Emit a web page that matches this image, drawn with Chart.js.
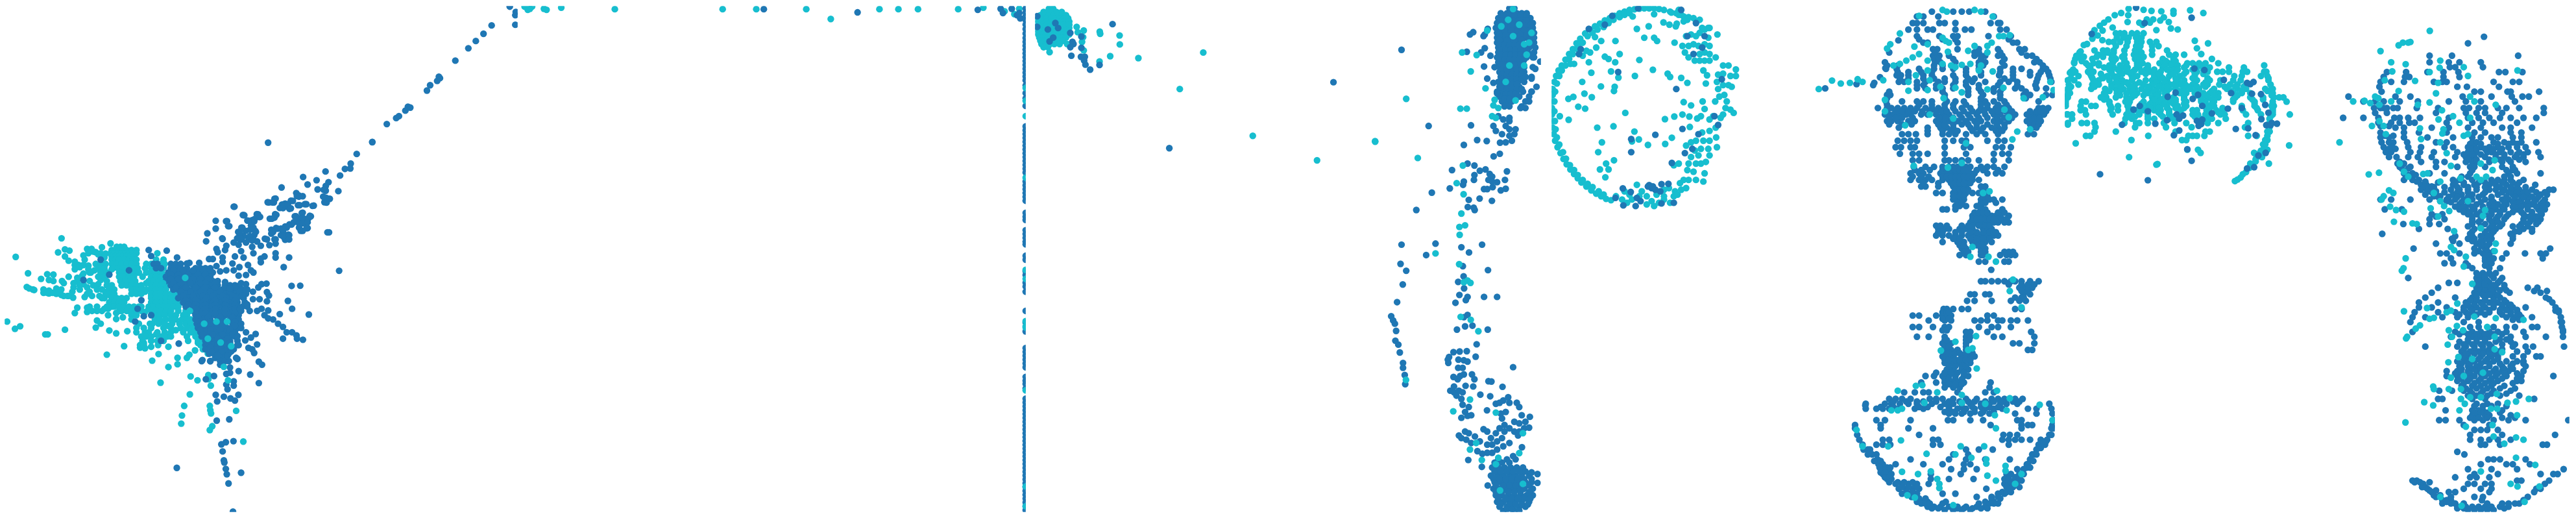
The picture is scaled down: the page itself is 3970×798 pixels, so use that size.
<!DOCTYPE html>
<html><head><meta charset="utf-8">
<style>html,body{margin:0;padding:0;background:#fff;width:3970px;height:798px;overflow:hidden}canvas{position:absolute}</style>
<script src="https://cdn.jsdelivr.net/npm/chart.js@4"></script>
</head><body>
<script>
// rows: [y, x, x, x...]  /  pairs: [x,y, x,y...]
const wingTeal=[236,200,50,287,222,266,250,252,268,258,250,285,265,305,290,325,290,345,305,325,325,280,340,250,358,250,375,265,395,270,415,272,400,242,435,224,325,325,345,328,355,360,100,364,178,368,203,370,153,390,185,395,203,400,265,380,238,400,245,410,95,428,105,435,120,440,163,440,163,455,185,445,185,458,215,435,215,460,235,465,235,440,260,470,283,478,285,430,300,400,320,375,325,415,350,400,350,450,330,475,385,380,385,415,390,470,410,480,430,440,430,465,300,525,290,550,340,525,340,545,360,540,380,520,400,540,425,530,425,560,458,550,458,578,485,570,380,585,395,600,375,618,430,632,458,645,503,635,250,628,170,650,180,650,68,612,47,624,15,590,490,705,420,745,555,712,575,715,600,708,628,700,670,708,630,742,604,773,670,803,707,760,707,790,745,760,755,745,778,725,638,876,760,847,788,865,832,840,832,860,842,890,757,931,734,985,725,1030,722,1068,838,985,840,1005,843,1020,848,1080,838,1098,945,1008,974,1152];
const wingTealExtra=[290,310,310,335,330,300,345,270,365,262,385,275,410,290,415,320,400,340,370,350,345,345,325,365,300,385,285,410,310,420,340,430,365,420,395,395,415,375,400,440,420,450,380,440,360,470,340,460,310,440,280,450,265,470,245,470,225,450,200,455,178,455,125,442,350,520,380,540,410,530,440,520,470,540,490,520,510,540,525,555,560,520,575,545,590,530,595,600,575,640,560,660,570,690,620,650,640,660,600,680,665,660,440,345,460,300,495,300,520,330,545,360,565,380,580,410,560,430,540,450,520,460,500,400,520,420,575,450,600,470,640,480,680,470,720,480,700,520,740,560,760,580,770,640,790,690,610,330,630,350,650,370,610,390,640,430,610,430,630,510,650,530,670,550,690,570,650,590,670,610,700,630];
const wingTealRows=[[240,460,475,490],[255,440,455,470,485,500,520,540],[270,435,450,465,480,495,510,525,540,625],[285,440,455,470,485,500,515,530],[300,440,455,470,490,510,525,540,620,650],[320,375,395,440,460,480,500,520,540,580,600,620,640,655],[340,385,410,445,465,485,505,525,545,575,600,625,650],[360,350,395,420,470,490,510,530,550,580,600,620,640],[380,410,470,490,510,530,600,620,640,660],[400,420,475,495,515,535,590,610,630,650],[420,420,440,480,500,520,540,560,600,620,640,660],[440,430,450,520,540,560,580,600,620,640,660,690],[460,415,430,450,540,560,600,620,640,660,680,700],[480,400,440,460,480,500,600,620,640,660,680,700],[500,430,450,470,490,600,620,640,660,680,700,720],[520,420,450,470,490,510,530,550,590,610,630,650,670,690,710],[540,480,500,520,540,560,600,620,640,660,680,710,740],[560,520,540,615,635,655,680,700,730,745],[580,520,615,635,660,680,700,725,745],[600,550,605,630,655,685,715,740,760],[620,540,570,600,650,680,720,745,770],[640,540,590,625,655,680,730,760,780],[660,580,600,655,680,745,780,800],[680,565,600,625,650,750,790,810],[700,555,570,800,815],[720,810,820],[740,830]];
const wingBlueRows=[[320,610,625,680,700,720],[340,620,640,680,700,720,745,780,800,820,840],[360,670,690,710,730,750,770,790,810,830,850],[380,660,680,700,720,760,780,800,820,840],[400,660,680,700,720,745,770,790,810,830,850,870],[420,680,700,720,745,770,790,810,830,850,870,900,920,940,960],[440,690,710,730,750,770,790,810,830,850,870,890,910,930,950,970,990],[460,720,740,760,780,800,820,840,860,880,900,920,940,960,985],[480,710,730,750,770,790,810,830,850,870,890,910,930,950,975],[500,730,750,770,790,810,830,850,870,890,910,930,950,980],[520,740,770,790,810,830,850,870,890,910,930,950,970,990],[540,770,790,810,830,850,870,890,910,930,950,965],[560,780,800,820,840,860,880,900,920,940,955],[580,780,800,820,840,870,890,920,940,955],[600,785,805,830,860,880,900,930,950,965],[620,790,810,830,850,870,890,910,930,950,965],[640,800,820,840,860,880,900,920,940],[660,805,825,845,865,885,900,920,940],[680,820,840,860,880,900,920,950],[700,820,850,870,890,910,950],[720,820,850,870,890,910,935],[740,835,855,875,895,915],[760,860,880,900,945],[775,805,840,880,900,915],[350,690,730,770,810,840],[370,680,710,750,790,820],[390,680,710,770,800,830],[410,690,730,760,800,820,860],[430,700,740,780,820,860,900,940],[450,720,760,800,840,880,920,960],[470,730,770,810,850,890,930,970],[490,740,780,820,860,900,940],[510,750,780,820,860,900,940],[530,780,820,860,900,940,960],[550,780,820,860,900,940],[570,790,830,880,930],[590,790,840,880,940],[610,800,840,890,940],[630,800,840,880,920],[650,810,850,890,930],[670,830,870,910],[690,830,880,920],[710,840,880,920],[730,845,885,925],[750,870,910]];
const wingBlue=[590,255,663,258,705,290,745,318,755,315,795,315,600,283,850,297,835,297,890,290,890,310,865,330,880,355,905,350,935,350,955,375,900,405,920,435,965,410,985,415,985,445,1013,450,1035,430,1048,415,1068,412,1070,452,1078,468,1013,485,1040,485,1070,495,990,510,1000,540,1030,540,1048,530,1075,538,1060,560,1075,575,1095,580,1115,600,1135,615,1150,640,1172,640,1190,655,1192,670,1216,675,1135,670,1122,555,1240,557,1172,530,1155,493,1170,423,1205,422,1363,352,1138,335,1160,290,1322,172,938,52,823,214,828,177,862,155,862,118,908,120,917,143,890,203,978,92,995,118,1020,110,1034,88,1042,100,1090,108,1108,90,1078,32,1098,32,1105,14,1135,58,1140,40,1155,40,1167,60,1175,25,1203,45,1230,40,1260,47,1200,5,1215,3,1310,10,1325,15,1312,33,1188,97,1215,80,1248,97,1215,105,1235,125,1235,152,1215,165,1200,130,1170,135,1150,150,1135,160,1113,155,1095,170,1135,190,1160,185,1160,205,1105,205,1105,225,1070,205,1080,232,1105,270,1105,290,1060,285,1045,312,1045,295,970,150,960,175,1015,150,1025,170,960,200,1000,190,985,220,1010,210,1030,215,935,220,905,235,900,255,865,250,870,265,955,230,965,260,940,285,975,290,1010,240,1015,270,1045,235,930,318,958,335,993,325,1005,350,985,372,1015,360,985,640,950,658,1005,665,1024,648,982,678,1030,697,955,700,995,713,1010,720,1018,737,950,765,1037,778,1050,792,955,822,1002,838,1037,878,808,770,840,775,880,792,920,805,920,830,905,835,855,845,822,860,935,870,935,890,905,885,910,907,862,933,895,942,954,933,922,950,940,960,868,964,866,1054,917,1048,885,1165,903,1155,934,1150,890,1198,895,1240,897,1250,903,1280,907,1305,914,1348,965,1298,704,1275,932,1480,395,300,325,395,430,370,510,350,535,590,600,560,570,565,545,530,560,490,640,680,712,693];
const wingTealTop=[738,385,648,410,757,540,865,590,908,590,815,600,830,670,882,688,925,705,895,802,912,865];
const midCloudBlue=[220,82,708,80,635,135,607,180,605,203,580,205,557,236,489,217,447,258,384,243,405,278,503,267,490,285,490,307,480,303,452,301,549,309,283,292,478,335,500,345,490,350,484,361,352,318,365,330,355,332,327,354,250,345,240,362,218,361,300,368,285,372,275,388,290,388,310,380,320,392,360,375,392,370,428,378,59,382,102,421,167,417,177,430,123,447,145,445,155,450,23,450,33,473,253,417,250,433,228,438,345,427,378,412,375,435,415,425,410,435,395,440,360,445,340,455,320,465,398,462,365,480,373,495,400,483,380,460,498,502,95,480,140,470,80,500,115,495,135,490,160,495,155,515,85,520,105,520,75,530,95,535,130,535,150,535,5,530,235,490,235,508,257,482,280,485,300,475,290,500,280,515,315,513,295,525,205,532,250,535,300,537];
const diagBlue=[378,649,446,565,490,537,503,528,533,502,545,484,556,488,634,408,649,383,682,363,695,350,690,343,767,268,828,210,863,176,899,142,937,103,1048,100,1048,55,1050,40,1022,15,1080,40];
const topTeal=[1060,15,1075,30,1095,15,1085,25];
const topLineTeal=[105,25,113,30,158,20,322,27,652,27,755,27,908,27,983,73,1132,27,1190,27,1250,27,1373,27,1450,20,1515,37,1545,50,1560,25];
const topLineBlue=[778,27,1065,42,1433,30,1503,25,1510,45,1537,25,1553,55,1563,70,1560,45];
const stripBlue=[1586,8,1586,14,1586,20,1586,26,1586,33,1586,40,1586,47,1586,54,1586,60,1586,66,1586,72,1586,78,1586,84,1586,90,1586,96,1586,102,1586,108,1586,114,1586,120,1586,128,1586,140,1586,148,1586,160,1586,192,1586,198,1586,204,1586,210,1586,216,1586,222,1586,228,1586,234,1586,240,1586,246,1586,252,1586,258,1586,264,1586,278,1586,284,1586,290,1586,296,1586,302,1586,308,1586,327,1586,333,1586,338,1586,354,1586,360,1586,366,1586,372,1586,376,1586,394,1586,400,1586,418,1586,424,1586,436,1586,442,1586,450,1586,480,1586,498,1586,512,1586,538,1586,544,1586,550,1586,556,1586,562,1586,568,1586,583,1586,589,1586,594,1586,601,1586,617,1586,623,1586,629,1586,635,1586,641,1586,647,1586,653,1586,659,1586,665,1586,671,1586,677,1586,683,1586,689,1586,695,1586,701,1586,707,1586,713,1586,719,1586,725,1586,731,1586,737,1586,743,1586,749,1586,755,1586,761,1586,767,1586,773,1586,779,1586,785,1586,791];
const stripTeal=[1586,132,1586,152,1586,176,1586,272,1586,416,1586,430,1586,496,1586,504,1586,506,1586,604,1586,754,1586,785];
const blobTealRows=[[25,335,355],[40,310,330,350,370,395],[55,295,315,335,355,375,395,415],[70,285,305,325,345,365,385,405,425],[85,285,305,325,345,385,405,430],[100,285,305,325,345,365,385,405,430],[115,285,305,345,365,400,430],[130,285,305,325,345,365,385,405,425],[145,285,305,325,345,365,385,405,430],[160,290,310,330,375,395,415],[175,295,315,360,380,400],[190,300,320,340,360,385,420],[205,310,330]];
const blobTeal=[465,110,498,127,470,135,495,158,490,180,338,228,498,220,573,132,575,142,666,150,667,192,622,247,572,272,754,256];
const blobBlue=[365,92,330,122,378,115,280,110,355,160,338,178,280,60,435,138,445,180,450,190,435,205,633,97,487,208,440,245,485,250,503,250,500,268,506,287,528,310,572,288,487,155];
const farTeal=[278,230,168,401,510,620,811,735,1083,645];
const farBlue=[119,678,888,369];
const columnBlueRows=[[15,600,620],[30,565,590,610,630,650,670],[45,555,580,600,630,660,685],[60,550,575,600,625,650,680,695],[75,545,565,590,620,645,670,695],[90,550,570,600,630,655,680,700],[105,550,575,605,635,660,690,700],[120,550,570,590,610,630,650,680,700],[135,555,575,595,615,635,655,680,705],[150,555,575,595,615,635,655,675,700],[165,550,570,590,610,630,650,670,695],[180,555,575,595,615,635,655],[195,540,560,580,600,620,640,660,695],[210,560,580,600,620,640,660],[225,565,585,605,625,645,665,690],[240,555,575,595,615,635,660],[255,560,580,600,620,640],[270,550,570,590,610,630,655,690],[285,560,580,600,620,640,680],[300,570,590,610,665],[315,580,600,650],[37,570,600,620,645,670],[52,565,590,615,640,670],[67,555,580,610,635,660,685],[82,555,580,610,635,660,685],[97,560,585,615,645,670],[112,560,590,620,650,680],[127,560,580,600,620,640,665,690],[142,565,585,605,625,645,670],[157,565,585,605,625,645,665,690],[172,560,580,600,620,640,660],[187,565,585,605,625,645],[202,570,590,610,630,650],[217,570,590,610,630,650],[232,570,590,610,630,650],[247,570,590,610,630],[262,570,590,610,630,650],[277,565,585,605,625],[292,580,600,620]];
const columnBlue=[162,142,272,375,285,579,222,632,162,738,300,735,262,770,158,797,181,818,167,860,144,914,120,957,128,970,135,980,140,1002,137,1032,149,1044,155,1068,168,1100,168,1115,175,1137,177,1165,444,373,415,433,469,418,508,421,427,148,440,95,453,88,495,100,500,95,512,78,500,137,485,150,523,160,497,193,510,230,535,243,536,468,561,460,430,490,458,496,367,510,480,512,503,508,590,514,458,525,456,540,520,522,530,530,515,540,530,545,550,547,582,540,415,545,412,555,358,566,497,568,510,568,532,562,565,572,585,567,479,597,435,601,529,604,431,623,455,625,459,632,405,746,489,738,436,762,411,804,513,816,414,835,392,852,416,872,397,892,430,898,423,908,381,916,497,898,550,898,430,953,415,960,420,988,450,986,387,998,512,998,467,1043,373,1067,398,1065,427,1064,355,1082,350,1090,352,1100,393,1090,415,1092,430,1096,463,1081,392,1115,410,1115,415,1135,373,1143,390,1150,400,1140,448,1135,458,1150,422,1170,453,1172,615,1113,515,1156,527,1157,572,1173,375,1172,360,1185,375,1190,395,1185,410,1190,385,1200,405,1210,482,1197,522,1202,410,1228,435,1235,420,1250,445,1260,405,1268,430,1262,509,1245,545,1225,560,1222,575,1215,595,1205,600,1222,630,1222,640,1235,565,1255,585,1250,570,1270,650,1260,683,1265,665,1280,620,1280,640,1285,580,1290,560,1300,580,1310,600,1300,620,1310,640,1310,660,1300,680,1298,635,1322,495,1303,395,1322,405,1330,420,1310,435,1315,425,1335,460,1325,445,1345,480,1340,470,1370,490,1378,433,1397,488,1418,510,1310,525,1330,545,1315,510,1350,530,1350,550,1340,570,1330,510,1375,530,1375,550,1365,575,1355,600,1345,651,1358,615,1385,690,270,710,255,680,300,665,320,645,320,725,178,700,165,705,200,690,230,665,225,550,275,555,345,575,355,600,350,600,360,535,375,545,390,570,400,585,375,600,385,625,385,620,400,600,405,610,420,585,425,562,426,714,1440,714,1467,512,1475,690,1435];
const footBlueRows=[[1395,555,590,625],[1420,530,555,580,605,630,655],[1445,525,550,575,600,625,650,680],[1465,540,565,590,615,640,665,690],[1485,535,560,585,610,635,660,695],[1505,545,570,595,620,645,670,695],[1525,550,575,600,625,650,680],[1540,560,590,615,640,665],[1552,575,620,640],[1405,540,570,600],[1432,540,565,590,615,640,665],[1455,535,560,585,610,635,660,690],[1475,545,575,600,625,650,680],[1495,545,570,595,620,645,680],[1515,555,585,610,635,660,685],[1533,565,600,625,650,675],[1548,590,610]];
const columnTeal=[615,17,595,50,567,70,640,65,690,90,615,100,660,125,680,120,585,240,625,297,670,157,600,190,660,190,55,423,181,292,228,473,408,150,401,322,427,322,443,208,467,158,503,260,540,295,535,312,555,320,530,345,545,350,510,83,411,496,386,550,414,584,405,643,420,679,397,684,398,708,396,798,415,853,430,848,442,855,402,959,443,968,474,1003,300,765,180,1152,440,1212,372,1248,545,1252,655,1315,440,1365,465,1345,488,1397,640,1376,545,1410,555,1390,562,1490,655,1470];
const ringArcTeal=[745,300,745,320,745,340,748,360,748,380,752,400,758,420,768,440,780,458,792,476,805,492,820,508,835,522,850,535,865,548,885,560,905,572,925,582,945,590,965,598,985,602,748,280,748,262,755,240,762,222,772,205,785,190,800,172,815,155,830,140,845,122,860,108,880,92,900,80,920,70,940,62,960,52,980,45,1000,38,1020,30,1040,25,1060,20,1080,18,1100,16,1120,15,1140,15,1160,15,1180,17,1200,20,1225,25,1250,30,1270,35,755,300,755,330,757,360,760,385,765,410,775,432,790,455,802,475,818,495,835,510,850,525,870,540,890,552,910,562,935,575,955,585,758,270,765,245,775,222,785,205,800,190,815,170,830,155,850,140,868,120,890,100,910,90,930,80,955,72,975,60,995,50,1020,42,1040,35,1060,30];
const ringInnerTeal=[1073,40,1160,33,1198,58,1222,65,1090,78,1138,70,1120,105,1160,105,1172,115,1243,120,1003,115,945,115,920,103,925,135,1020,155,960,163,975,170,1002,180,1100,173,1155,203,905,212,985,208,1015,227,1082,222,1215,215,1225,225,1270,228,1295,243,868,240,944,254,1000,255,997,268,877,276,832,286,812,292,907,287,852,316,880,322,1043,335,777,345,813,356,1204,354,1242,346,1275,340,1303,346,1280,302,1310,312,1357,300,1365,323,1408,300,929,380,995,376,1080,392,1098,416,948,425,1070,422,1135,433,1205,430,1232,411,1305,378,933,455,997,480,965,490,940,508,962,532,975,508,1370,245,1230,28,1260,35,1280,40,1300,42,1320,45,1345,50,1280,55,1295,50,1260,20,1248,70,1252,62,1380,75,1355,75,870,120,885,145,900,150,895,180,870,160,835,185,820,185,850,130];
const ringRightTeal=[1290,100,1310,95,1330,100,1345,90,1365,80,1385,75,1417,95,1275,130,1285,150,1300,130,1320,125,1340,130,1380,105,1365,125,1385,130,1345,155,1365,150,1385,155,1410,165,1300,165,1325,175,1345,175,1365,175,1385,175,1360,205,1375,220,1440,190,1462,190,1492,202,1420,218,1440,215,1470,222,1492,222,1415,240,1440,250,1462,250,1475,255,1420,262,1445,280,1455,300,1425,285,1450,320,1440,340,1470,325,1483,335,1430,350,1385,355,1350,345,1335,352,1400,345,1410,380,1385,390,1355,395,1330,420,1310,425,1290,435,1360,420,1385,420,1412,410,1415,440,1380,445,1350,445,1385,465,1325,450,1340,465,1310,470,1300,490,1330,490,1370,485,1350,490,1260,490,1240,495,1320,515,1295,510,1365,520,1360,545,1300,540,1330,540,1280,540,1265,550,1290,565,1270,570,1005,590,1040,575,1060,585,1030,600,1050,610,1090,555,1110,575,1130,590,1150,605,1170,585,1200,570,1220,565,1245,575,1240,590,1225,610,1200,600,1180,610,1160,620,1130,615,1100,590,1070,600,1200,590,1255,585];
const ringBlue=[1014,210,1250,262,1275,384,1165,402,1067,415,1067,455,1232,488,1285,458,1315,445,1340,400,1135,560,1150,565,1165,570,1190,553,1218,552,1033,566,1065,577,1090,595,1085,620,1105,605,1035,618,1190,612,1240,610,1003,595,1140,556,1155,560,1185,575,990,38,960,65,895,78,862,140,855,155,1095,15,1270,20,1330,60,1295,100,1365,100,1355,135,1320,155,1435,232,1405,345,1420,372];
const hourglassBlueRows=[[25,540,640,680,715,790],[40,470,500,570,830],[60,450,470,500,575,600,650,815,850,860],[80,430,470,520,545,650,695,725,860,890],[100,470,575,640,660,805,910],[120,500,520,660,920,940],[140,545,565,660,760,850,950,975],[160,545,575,620,740,770,790,850,870,985,1010],[180,320,555,580,650,760,790,870,1020,1045],[200,325,375,480,550,590,640,700,760,860,920,960,1060,1075],[220,375,395,430,500,540,640,700,770,855,920,1000,1040,1090],[240,385,410,470,510,570,600,650,700,730,790,860,900,940,1030,1100],[260,470,510,560,590,640,710,760,830,870,930,960,1030,1075],[280,330,345,600,710,780,860,970,1000,1075,1105],[300,325,400,470,500,540,610,650,690,770,790,830,880,1040],[320,287,330,350,380,410,440,470,510,540,570,600,640,680,720,770,800,840,870,900,1040,1060,1085],[340,320,340,360,390,420,440,490,520,560,590,620,670,710,750,790,830,860,900,930,985,1010,1040,1065],[360,330,350,380,430,460,560,590,620,660,700,740,770,830,860,900,985,1010,1030,1050],[380,385,520,580,610,640,720,750,780,820,850,880,1010,1030],[400,400,430,465,520,590,620,650,700,750,790,850,990,1018],[420,380,410,440,470,600,640,680,700,800,850,880],[440,370,395,440,460,600,690,720,840,870,910],[460,390,450,480,520,600,700,830,870,900],[480,450,480,600,620,650,680,710,760,830,900],[500,455,510,550,590,620,640,660,680,700,720,770,800,830,880],[520,440,480,500,580,600,620,640,660,680,700,720,740,800,840,870],[540,440,480,510,540,590,620,640,660,680,700,730,760],[560,490,510,570,640,660,680,700,770,790],[580,560,590,640,660,680,700,730,760,790],[600,640,660,690,770,790,810,830,870],[620,650,670,700,750,770],[630,590,610,650,770,790,870],[650,730,760,780,800,820,840,860,900],[670,720,745,770,790,810,830,850,880,900],[690,570,600,620,670,700,730,780,800,820],[710,560,590,620,650,680,710,740,770,800,830,850],[730,590,660,690,730,760,790,820],[750,680,700,770,790],[770,670,700,770,780,860,890,910,930],[790,760,790,880,900],[815,818],[850,770,790,820,850,880,910,930,960,1000,1040],[870,950,980,1010],[890,720,740,790,810,970,1000],[910,705,740,820,910,950,980],[935,595,610,640,680,710,930,960],[955,450,480,560,590,610,630,800,830],[970,525,600,630,740,770,800,850,870,910,940,990],[990,450,480,545,600,620,760,820,850,910],[1005,700,720,800,1005],[1020,470,525,600,700,720,830,870,1020],[1040,590,610,630,700,920,950,1020],[1060,610,630,660,700,990,1010],[1080,590,620,640,680,710,740],[1100,600,630,660,690,720],[1120,610,640,680,710],[1140,510,550,590,620,650,690,710],[1160,490,560,600,630,660,690,815],[1175,600,640,670,810],[1190,410,460,500,525,660,790,830],[1210,340,370,400,440,530,560,590,640,700,750,820,850,880,930,965],[1225,230,320,350,390,430,470,540,600,640,680,720,770,810,860,890,940,1090],[1240,230,280,310,340,460,500,620,660,700,740,790,830,870,990,1030,1100],[1255,620,650,680,720,770,810,930,1030,1105],[1275,280,320,440,615,640,720,780,940,960,1110],[1290,180,300,960,990,1010,815,1105],[1300,180,300,430,545,960,1100],[1320,190,480,875,905,940,1090],[1335,200,310,340,545,570,870,900,930,960,1000,1050,1080],[1350,215,280,310,345,545,580,900,1040,1070],[1365,240,220,250,700,760,825,1030],[1380,260,710,640,1010,1020],[1395,285,440,700,620,905,790,1000],[1410,290,310,370,500,590,690,720,990,985],[1425,300,320,340,630,690,750,970,940],[1440,310,330,350,535,675,890,910,950],[1455,330,350,535,735,620,880,900,930],[1470,370,400,430,470,525,880,900,930],[1485,385,420,450,480,795,900],[1500,400,440,470,590,650,850,880],[1510,445,750,820,850],[1525,470,490,520,605,830,790],[1540,520,550,580,620,660,700,750,790],[1550,600,640,680,720]];
const hourglassFillRows=[[330,330,370,400,430,460,495,530,560,585,610,650,690,730,760,785,820,850,885,915,1000,1030,1050,1075],[350,340,370,400,450,575,605,640,680,720,760,800,845,880,915,1000,1020,1045],[370,340,400,445,570,600,640,680,710,750,800,845,880,1000,1020,1040],[390,520,590,630,660,730,770,840,870],[510,460,490,530,590,610,630,650,670,690,710,750,780,850],[530,450,490,525,590,610,630,650,670,690,710,730],[550,500,570,630,650,670,690,720],[570,650,670,690,710,780],[590,640,670,690,780,800],[610,660,680,770,790,840],[640,740,760,780,800,850,880],[660,730,750,770,790,810,830,850,870,890],[680,560,580,610,680,710,730,760,790,810],[700,570,590,650,680,720,750,780,810,830,840],[720,640,670,720,750,780,810],[740,670,690,750,780],[760,690,710,770,790,880,900,920],[860,960,990,1020,900],[880,960,990],[900,930,960,970],[945,590,610,620],[965,590,620],[1000,590,610],[1030,600,610,700,715],[1050,600,620,700],[1070,600,620,650,670,700,730],[1090,600,620,650,670,700,720],[1110,620,650,680,700],[1130,560,600,630,660,690],[1150,600,620,650,680],[1165,620,650,680],[110,480,590,650,900],[150,555,740,760,860,960],[170,550,570,640,770,880,1030],[190,330,380,550,590,640,760,780,880,1060],[210,380,430,490,540,700,770,860,920,1000,1050,1085],[230,390,430,500,550,600,650,710,740,880,920,1035,1095],[250,470,500,560,640,700,760,850,940,1025],[270,340,590,710,770,830,860,980],[290,330,600,770,860,980],[310,330,480,540,600,640,700,770,800,850,890],[1380,240,280],[1400,270,300],[1420,295,330,345],[1435,300,320],[1450,320,340,930,950],[1465,340,380,410,450,910,940],[1480,400,430,460,470,890,920,950],[1495,420,450,870,890,910],[1515,480,510,820,860],[1530,490,510,530,590,760,810,830,850],[1545,540,570,660,690,730,770,800],[1300,1110],[1320,1100],[1340,1075,1060],[1360,1050,1040],[1380,1030],[1400,1015],[1420,985,1000],[1440,970],[1460,960],[1218,360,420,470,500,560,620,670,710,740,790,830,870,920,950],[1235,300,360,390,480,520,580,620,680,730,770,810,850],[1250,600,640,690,740,780,830]];
const hourglassBlue=[40,260,187,247,265,250,270,243,297,226,322,198,383,113,340,150,228,1230];
const hourglassTeal=[480,38,590,20,610,25,740,20,770,25,825,40,390,92,345,125,330,138,458,132,520,125,590,105,605,115,620,120,740,130,710,145,615,148,800,130,820,120,800,150,855,100,875,100,905,97,420,175,450,165,480,155,360,190,390,185,520,175,590,185,630,190,650,195,680,188,720,185,770,190,520,205,760,205,825,208,465,220,430,240,530,235,580,255,650,258,800,263,520,265,430,267,875,258,680,272,595,290,1095,240,1110,265,1060,287,970,290,320,295,320,330,530,340,640,352,900,348,880,325,1000,385,940,392,415,373,917,416,700,428,680,488,615,502,455,497,810,575,780,580,730,745,720,775,805,775,840,790,920,845,905,880,960,930,582,1062,650,1035,747,1018,710,1060,730,1055,750,1117,380,1185,465,1170,495,1168,380,1245,400,1240,350,1245,505,1222,565,1190,680,1198,680,1222,790,1225,845,1185,905,1208,1045,1228,890,1245,835,1260,1105,1275,187,1305,395,1337,840,1300,215,1355,335,1355,675,1355,785,1355,515,1378,650,1380,795,1395,795,1408,400,1433,475,1440,535,1432,565,1455,575,1470,575,1483,800,1445,840,1460,725,1390,885,1415,885,1430,640,1535,425,1505,460,1512,960,1440,930,1470,72,236,113,245,156,243,215,240,192,232,312,235,10,262];
const domeTeal=[95,520,95,567,85,470,85,440,100,400,95,360,120,325,105,325,125,275,135,245,155,225,170,195,185,190,220,125,245,105,265,90,285,75,315,55,345,45,380,25,378,55,375,87,450,30,487,35,533,37,590,35,590,48,668,32,730,45,545,65,528,80,568,87,495,75,465,75,430,90,445,100,480,90,510,125,578,117,610,122,690,175,752,187,700,210,720,237,305,113,258,127,235,150,210,165,257,172,287,180,132,655,1132,665,510,755,515,752,950,750,960,760,975,740,1037,750,945,770,930,790,915,800,905,815,890,825,878,832,1000,690,1010,660,1015,290,1025,320,1035,350,1050,400,1060,440,1060,480,1055,520,1050,560,1040,600,1025,640,1015,670,995,700,975,730];
const domeTealRows=[[140,320,340,360,395,420,450],[160,325,355,380,415,440],[180,310,340,375,420,440,480,510],[200,320,370,415,435,490,520],[220,220,260,280,310,360,410,430,490,560],[240,150,235,255,300,360,405,430,490,570,600,640],[260,130,160,210,300,320,360,410,440,540,590,770],[280,125,180,215,240,305,370,420,445,525,545,570,595,655,680,710,740,800],[300,200,265,285,310,350,375,430,470,540,590,640,700,730,760,850,920],[320,110,130,190,215,300,340,375,400,440,480,500,530,575,600,650,700,750,795,820,850,935,915,1015],[340,145,205,255,280,310,330,395,420,500,530,570,620,690,875,910,1000,1030],[360,95,125,215,240,290,325,350,395,460,490,520,560,610,640,700,760,810,870,905,1035],[380,100,145,210,240,300,345,380,410,450,490,530,575,625,645,680,730,750,805,855,890,930,1045],[400,95,205,270,320,355,385,410,440,480,510,540,570,600,640,670,710,780,840,890,930,1020,1055],[420,85,105,265,325,370,395,420,470,500,520,550,620,650,690,730,760,800,870,910,950,1055],[440,95,250,275,320,370,395,490,520,550,590,640,720,750,800,880,950,1010,1060,1085,1105],[460,85,160,180,290,365,385,450,490,510,540,570,600,650,720,740,780,870,970,1055,1120],[480,85,155,205,225,295,330,375,440,470,500,530,560,610,650,750,780,910,970,1050],[500,155,175,295,330,380,420,450,500,530,570,625,680,700,745,790,820,915,985,1055],[520,90,115,180,305,370,395,430,470,530,570,610,680,705,740,760,810,830,930,1000,1050,1135],[540,115,365,395,470,500,570,595,720,750,770,835,1040],[560,95,160,185,220,360,415,430,470,545,595,650,750,800,940,1040],[580,225,410,555,675,925,1040],[600,220,320,600,760,740,1030,1040],[620,180,200,472,660,680,700,735,940,980,1030],[640,393,630,650,1020,1030],[660,1020],[685,655,705,1015,1030],[700,717,968,1000],[720,382,980,1005],[230,150,280,310,420,440],[250,140,170,230,260,310,350,420,450],[270,160,310,360,430,555,600],[290,190,240,290,340,420,470,550,580,610,650,690,720],[310,120,200,290,330,370,410,460,500,560,590,610,680,730,750],[330,200,250,300,350,390,460,520,590,640,690,730],[350,110,210,260,320,400,500,540,600,680,750],[370,220,320,370,430,510,550,600,690,740],[390,110,220,300,340,400,470,520,560,600,660,700,740,830,880,920],[410,100,290,340,400,460,500,560,620,690,770,860,910,1030],[430,95,270,340,410,450,510,560,640,700,740,780,890,1050],[450,265,380,500,540,600,640,720,770,870,960,1010],[470,290,380,440,480,520,550,590,640,730,770,970,1055],[490,300,380,440,480,520,560,600,640,760,820,980,1055],[510,380,430,470,520,570,620,690,760,800,1055],[530,380,410,470,540,590,690,760,1045]];
const domeBlue=[415,20,675,67,207,143,455,92,688,305,735,312,826,358,935,372,965,368,950,378,600,418,563,437,680,447,705,428,860,420,958,423,1000,425,1020,475,432,480,403,497,470,505,725,480,770,515,605,520,635,525,845,493,1035,512,1002,542,560,547,617,540,505,563,349,568,700,550,725,545,720,565,708,573,1025,570,1050,560,1075,563,1045,570,940,585,882,588,617,595,592,617,975,617,655,683,675,737,988,712,1022,700,935,773,968,767,246,800,470,828,910,490];
const funnelBlueRows=[[102,695],[122,620],[160,440,545,855],[180,440,530,580,680],[195,535,560,690],[210,240,330,505,430,575,765,795,875],[225,225,325,345,580,505],[240,210,260,320,460,500,520,740,830,860],[255,205,570,615,765],[270,215,805,820,953,650,680],[285,60,280,350,595,730,825,905,875],[300,130,185,300,385,530,225,610,680,840],[320,180,225,290,380,480,600,625,670,700,760,800,860,975],[335,185,240,470,610,660,700,780,975],[350,35,130,200,275,300,340,395,530,620,670,720,770,820,880,940],[365,200,260,300,345,370,520,640,690,740,850],[380,280,320,450,530,620,680,780,820,920],[395,210,320,390,520,650,700,820,870],[410,210,250,320,430,550,640,680,730,760,830,870],[425,215,250,270,335,470,520,640,660,740,790,830,870,940],[440,225,265,400,340,510,550,620,650,680,720,760,810,850,890],[455,235,260,350,395,460,570,620,640,660,710,730,770,820,860,900,950],[470,250,285,340,385,450,560,610,630,650,700,750,790,840,880,960],[485,300,400,470,510,610,640,660,720,780,820,890],[500,300,350,470,570,630,650,700,780,830],[520,320,360,440,510,630,810,850,960],[540,320,360,390,550,580,640,730,760,790,820,880],[555,400,425,550,600,650,720,750,800,850,935],[570,400,430,540,580,620,660,720,750,790,830,860,920,1000,1020],[585,420,470,550,590,640,690,760,830,860,900,960,990],[600,210,350,260,440,520,560,600,640,700,730,780,810,840,870,900,940,980],[615,580,620,660,720,760,800,850,880,920,960,990],[630,230,310,580,610,650,720,750,790,850,900,950,980],[645,450,500,620,660,700,730,770,810,880,920,965],[660,440,510,640,680,720,750,790,880,930,960],[675,317,440,485,640,700,740,780,870,900,940],[690,390,525,650,720,750,880,920],[705,218,630,700,730,820],[720,545,620,650,700,730,830],[735,470,580,660,690,720,820],[750,365,650,700,1005],[765,490,520,580,650,690,720,800,887,960,985],[780,540,700,730,740,780,970],[795,510,550,610,710,730],[810,640,720,770],[825,660,690,720,750],[840,340,660,680,700,740,780],[855,530,570,660,690,720,760],[870,480,660,690,720,750,790,900,945],[885,450,650,680,710,740,815,960],[900,420,560,640,660,700,740,770,985],[915,390,480,610,650,680,720,760,800,1015],[930,390,450,520,600,630,660,700,740,780,810,830,890,1030],[945,370,480,560,610,640,680,720,770,820,850,1045],[960,360,420,500,570,620,800,840,870,920,1055],[975,350,600,670],[990,630,670,740,800,840,920,945,1060],[1005,360,560,600,640,680,720,760,800,880,1065],[1020,540,640,680,720,820,890,985,1065],[1035,580,620,660,700,750,820],[1050,420,570,610,650,690,730,830,890,925,1070],[1065,590,630,670,710,760,850,900],[1080,590,620,680,730,760,830,880,940,960],[1095,570,610,650,700,740,800,850,880],[1110,580,620,660,720,780,820,890],[1125,520,570,620,660,700,740,780,810,880],[1140,520,570,610,650,700,750,800,870,1020],[1155,570,620,670,720,760,850,870],[1170,590,640,680,730,790],[1185,485,545,600,630,690,740,820],[1200,620,660,710,770,860],[1210,480,500,640,700,930],[1225,660,710,760],[1245,515,640,670,690,780],[1260,640,660,700,720,820],[1275,485,515,580,650,690,740,810,890,1090],[1290,600,720],[1305,650,680,710,760],[1320,630,780,1028],[1335,630,680,720,760,820],[1350,680,700,770,990,970],[1372,570],[1380,603],[1395,715,740,770,890],[1410,680,800,830,910],[1425,620,730,1068,850],[1440,650,760,960,1040,1020],[1450,560,630,660,720],[1460,360,380,850,870,1000],[1470,410,620,650,700,730,980],[1485,430,600,680,730,960,940],[1495,450,530,560,720,930],[1510,470,540,650,690,900],[1520,500,520,540,685,880],[1530,540,560,600,710,840,860],[1540,570,610,640,670,700,730,770,810],[1550,620,650,680,710,740]];
const funnelFillRows=[[430,630,680,760,810,850],[445,640,660,700,740,780],[462,600,640,680,750,790,850,880],[478,620,660,720,770,810,860],[510,640,800,840,830],[530,330,350,590,620,790,820],[548,480,560,600,670,700,740,780,830,860],[562,460,510,570,620,660,700,770,820,850,890],[578,450,510,570,620,700,780,810,850,880,900,940,980],[592,480,530,570,620,670,730,800,840,880,920,950],[608,540,590,620,680,740,790,830,860,900,930,970],[622,560,600,640,690,740,780,830,870,900,940,970],[638,600,630,680,730,770,830,870,920,960],[652,470,640,680,720,760,800,890,910,940],[668,640,670,730,760,880,910,950],[682,620,680,730,770,830,860,900],[698,640,700,740,840,860,920],[712,560,640,680,720,830],[727,550,640,680,720],[742,680,710],[758,670,710,740],[772,700,720],[788,700,720],[802,620,700],[832,670,700,730],[848,670,710,770],[862,670,700,740,790],[878,670,700,730,770,800],[892,660,690,720,760],[908,630,660,700,740,790],[922,620,650,690,740,780,820],[938,600,640,680,720,770,800,850],[952,580,620,660,700,780,820,860],[968,830,860],[1012,580,620,660,700,740,780],[1028,620,660,700,770,800],[1043,600,640,680,720,780,840],[1058,600,650,690,720,780],[1072,610,650,690,720,740],[1088,600,640,670,710,760],[1102,590,630,680,720,770,830,880],[1118,590,640,680,700,750,790,830],[1132,560,590,630,680,720,760,790,850],[1148,590,630,680,730,780,850],[1162,600,650,700,740,830],[1178,610,660,710,770,840],[1194,640,680,730,800],[1232,650,690,730,800],[1252,650,680,710,770],[1268,630,670,710,780,840],[1530,500,780,810],[1545,570,600,790],[1465,370,395,440],[1490,440,470],[1505,460,490],[1480,405,420],[1525,520],[320,210,240,270],[375,210,250],[405,230,270],[445,250,280],[490,290,320],[505,310,340],[525,340,375],[545,380,420],[560,420,450],[575,430,470],[590,460,490],[605,490,520],[880,930,990],[905,1000],[940,1030,1045],[975,1055,1060],[1000,1065]];
const funnelTeal=[441,84,295,128,315,120,340,120,350,118,210,146,260,180,328,186,490,175,487,197,440,210,600,195,265,208,852,205,372,237,480,243,230,235,295,268,470,275,620,222,82,300,135,298,162,305,185,285,200,290,440,303,205,310,260,300,385,310,498,327,630,285,650,300,750,310,550,345,482,355,580,365,630,350,170,375,205,360,225,375,235,400,395,382,505,385,500,398,18,425,400,415,490,425,620,400,600,405,520,458,300,490,155,523,203,518,320,515,340,530,410,522,430,520,490,545,585,535,540,497,680,490,745,480,735,510,680,540,660,530,705,530,250,572,225,590,270,580,215,600,255,622,283,632,320,637,445,627,480,652,508,620,532,635,460,580,490,605,690,650,700,632,620,605,273,668,360,673,380,675,680,688,555,697,328,780,540,745,555,755,750,735,745,758,318,810,310,818,610,775,600,805,640,858,320,942,428,932,570,918,540,940,520,945,460,962,440,965,395,985,375,995,335,1020,330,1025,650,958,750,963,880,968,530,1000,568,987,597,1000,710,990,525,1044,545,1020,745,1020,575,1082,745,1058,780,1067,640,1088,528,1098,600,1140,690,1130,540,1145,457,1172,460,1180,530,1180,587,1180,755,1195,587,1210,605,1225,415,1220,457,1230,580,1245,630,1205,680,1205,805,1222,905,1210,845,1218,728,1240,757,1240,850,1260,327,1282,610,1295,735,1290,845,1328,880,1335,740,1325,790,1347,845,1390,935,1412,820,1470,852,1478,680,1432,955,1478,885,1525,590,1537,490,1510];
const wingTealTopMarks=[738,385];

const BLUE='#1f77b4', TEAL='#17becf';
const flat=a=>{const o=[];for(let i=0;i<a.length;i+=2)o.push({x:a[i],y:a[i+1]});return o;};
const rows=r=>{const o=[];r.forEach(([y,...xs])=>xs.forEach(x=>o.push({x,y})));return o;};

// reading frames: each value set was read on its own grid
const frames={
 A:{ox:0,oy:300,sx:2.6,sy:3}, G:{ox:450,oy:0,sx:3,sy:3}, K:{ox:340,oy:190,sx:3,sy:3},
 T:{ox:780,oy:0,sx:1.96,sy:3}, P:{ox:0,oy:0,sx:1,sy:1}, B:{ox:1500,oy:0,sx:3,sy:3},
 H:{ox:1760,oy:0,sx:3,sy:3}, C:{ox:2100,oy:0,sx:2.6,sy:1.96}, D:{ox:2800,oy:0,sx:3,sy:1.96},
 E:{ox:3150,oy:0,sx:3,sy:3}, F:{ox:3600,oy:0,sx:3,sy:1.96}
};
const TOP=4,BOTTOM=794;
const panels=[
 {l:2,r:803,layers:[['G',BLUE,flat(diagBlue)],['K',BLUE,flat(midCloudBlue)],['A',TEAL,flat(wingTeal)],['A',TEAL,flat(wingTealExtra)],['A',TEAL,rows(wingTealRows)],['A',BLUE,rows(wingBlueRows)],['A',BLUE,flat(wingBlue)],['A',TEAL,flat(wingTealTop)]]},
 {l:798,r:1586,layers:[['G',TEAL,flat(topTeal)],['T',TEAL,flat(topLineTeal)],['T',BLUE,flat(topLineBlue)],['P',BLUE,flat(stripBlue)],['P',TEAL,flat(stripTeal)]]},
 {l:1590,r:2380,layers:[['B',TEAL,rows(blobTealRows)],['B',TEAL,flat(blobTeal)],['B',BLUE,flat(blobBlue)],['H',TEAL,flat(farTeal)],['H',BLUE,flat(farBlue)],['C',BLUE,rows(columnBlueRows)],['C',BLUE,rows(footBlueRows)],['C',BLUE,flat(columnBlue)],['C',TEAL,flat(columnTeal)]]},
 {l:2386,r:3172,layers:[['C',TEAL,flat(ringArcTeal)],['C',TEAL,flat(ringInnerTeal)],['C',TEAL,flat(ringRightTeal)],['C',BLUE,flat(ringBlue)],['D',BLUE,rows(hourglassBlueRows)],['D',BLUE,rows(hourglassFillRows)],['D',BLUE,flat(hourglassBlue)],['D',TEAL,flat(hourglassTeal)]]},
 {l:3177,r:3965,layers:[['E',TEAL,flat(domeTeal)],['E',TEAL,rows(domeTealRows)],['E',BLUE,flat(domeBlue)],['F',BLUE,rows(funnelBlueRows)],['F',BLUE,rows(funnelFillRows)],['F',TEAL,flat(funnelTeal)]]}
];

panels.forEach(p=>{
 const c=document.createElement('canvas');
 const w=p.r-p.l,h=BOTTOM-TOP;
 c.style.left=p.l+'px';c.style.top=TOP+'px';c.style.width=w+'px';c.style.height=h+'px';
 c.width=w;c.height=h;document.body.appendChild(c);
 const scales={};
 [...new Set(p.layers.map(l=>l[0]))].forEach(k=>{
  const f=frames[k];
  scales['x'+k]={type:'linear',axis:'x',display:false,min:(p.l-f.ox)*f.sx,max:(p.r-f.ox)*f.sx};
  scales['y'+k]={type:'linear',axis:'y',display:false,reverse:true,min:(TOP-f.oy)*f.sy,max:(BOTTOM-f.oy)*f.sy};
 });
 new Chart(c,{type:'scatter',
  data:{datasets:p.layers.map(([k,col,pts],i)=>({data:pts,xAxisID:'x'+k,yAxisID:'y'+k,backgroundColor:col,borderColor:col,borderWidth:0,pointRadius:5.2,pointHoverRadius:5.2,order:p.layers.length-i,clip:0}))},
  options:{responsive:false,animation:false,events:[],layout:{padding:0},scales,plugins:{legend:{display:false},tooltip:{enabled:false},title:{display:false}}}
 });
});
</script>
</body></html>
